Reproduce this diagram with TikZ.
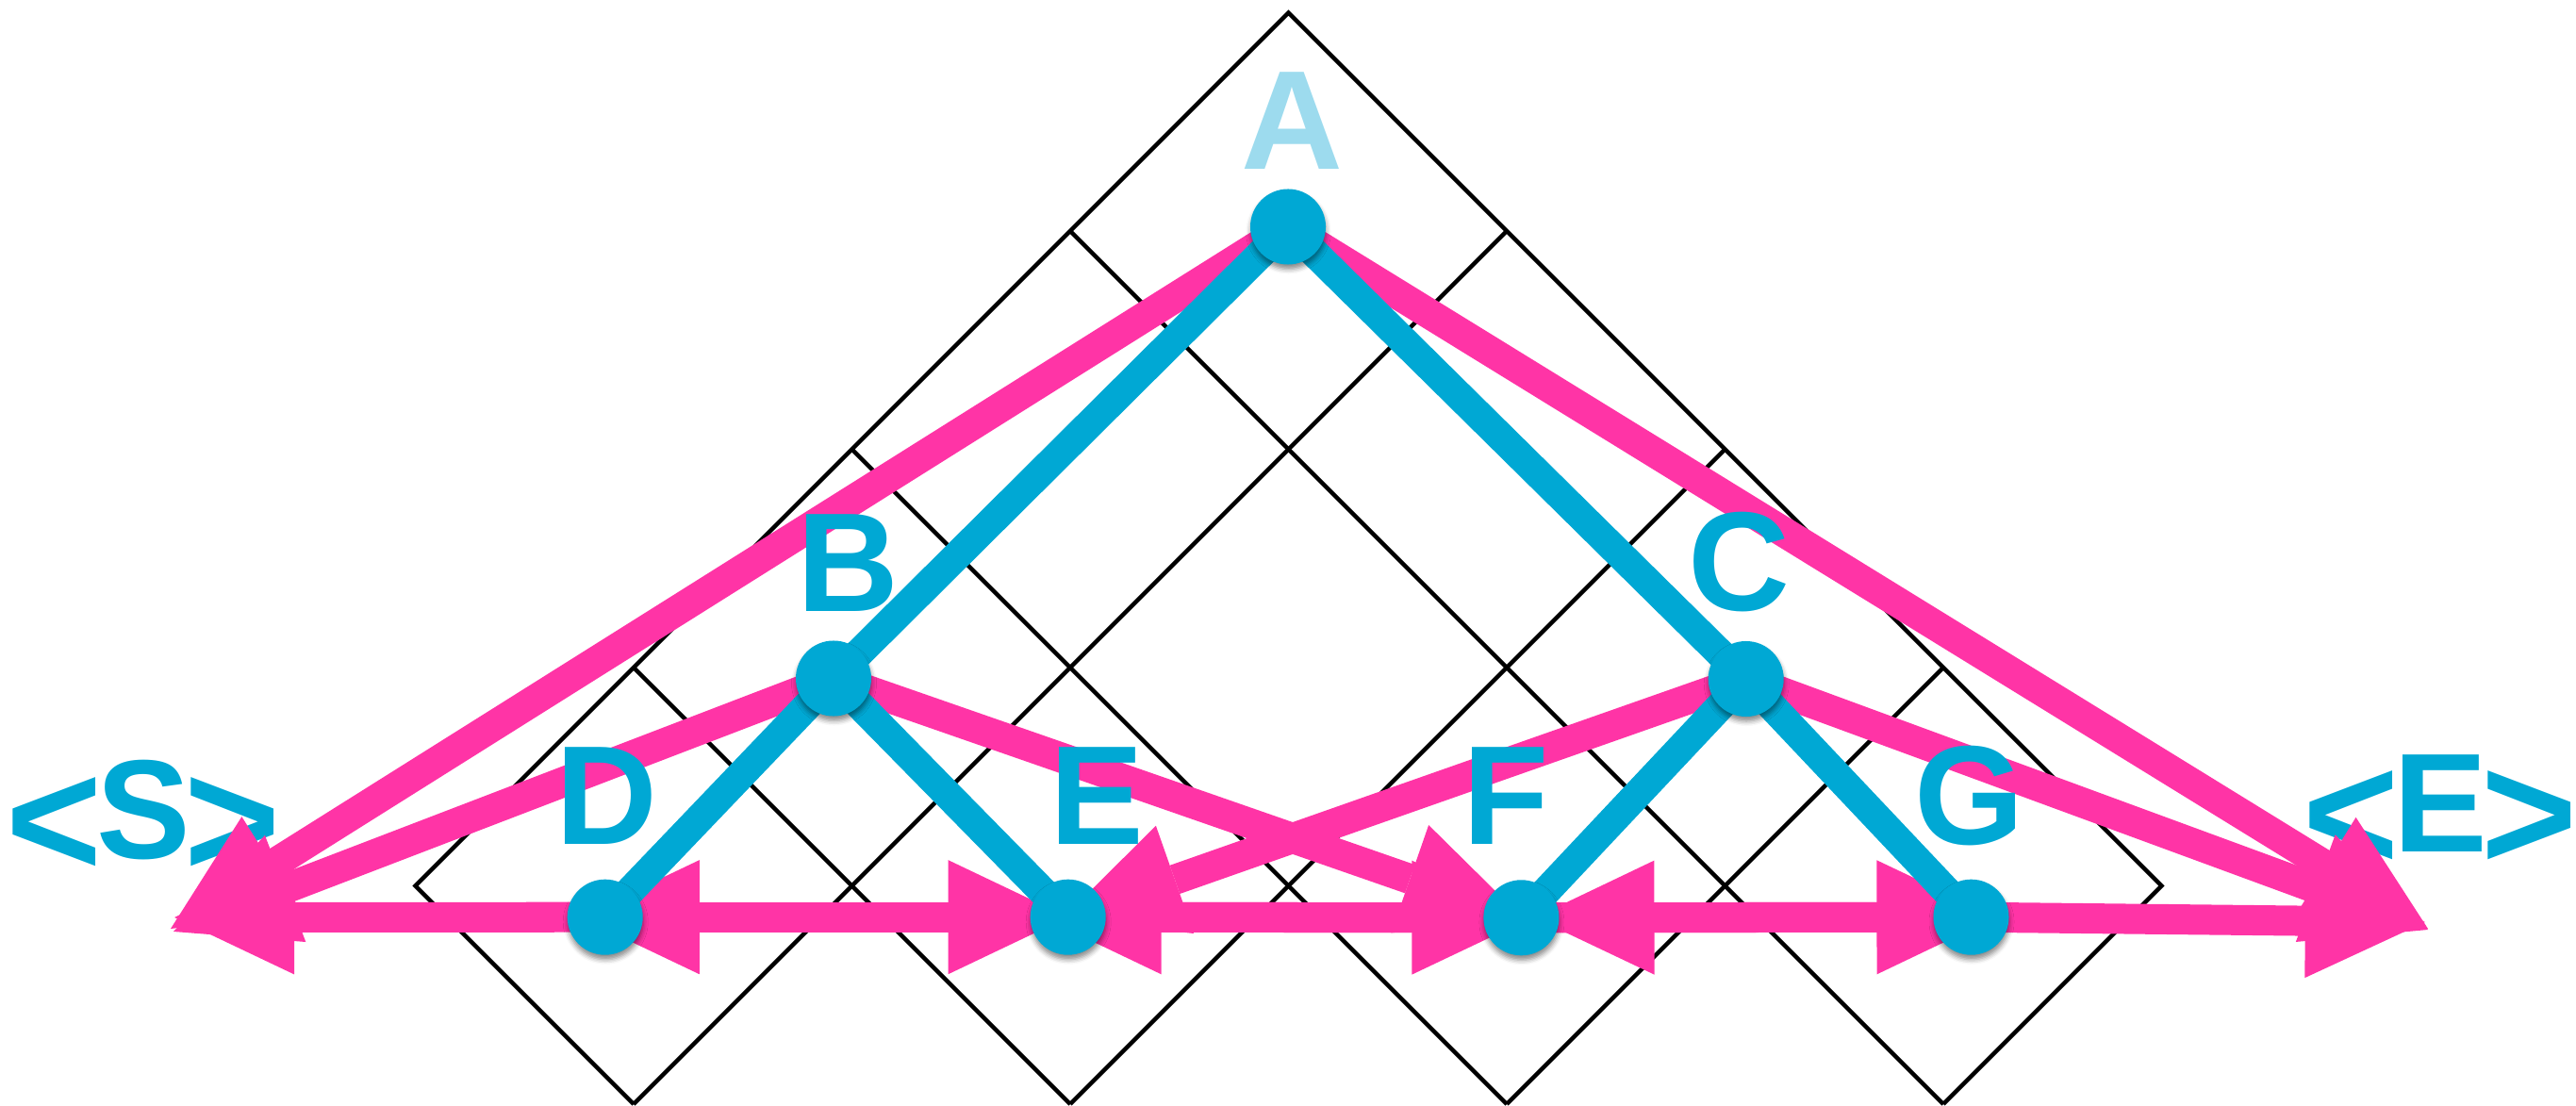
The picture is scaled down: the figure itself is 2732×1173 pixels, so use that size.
\documentclass[tikz,border=0pt]{standalone}
\usepackage{fontspec}
\setmainfont{Liberation Sans}
\usetikzlibrary{arrows.meta,shadows.blur}
\definecolor{nblue}{HTML}{00A8D4}
\definecolor{lblue}{HTML}{9DDBEE}
\definecolor{hpink}{HTML}{FF34A6}
\newcommand\chevl{\raisebox{-0.13em}{\scalebox{1.17}{\textless}}}
\newcommand\chevr{\raisebox{-0.13em}{\scalebox{1.17}{\textgreater}}}
\pgfdeclarelayer{gridlayer}
\pgfdeclarelayer{pinklayer}
\pgfdeclarelayer{bluelayer}
\pgfsetlayers{gridlayer,pinklayer,bluelayer,main}
\begin{document}
\begin{tikzpicture}[x=0.01cm,y=-0.01cm,
  dot/.style={circle,fill=nblue,minimum size=0.8cm,inner sep=0pt,
    blur shadow={shadow xshift=0.005cm,shadow yshift=-0.05cm,shadow blur radius=0.05cm,shadow opacity=45}},
  lab/.style={text=nblue,font=\fontsize{42.5}{51}\selectfont\bfseries,anchor=base,inner sep=0pt},
  gridline/.style={line width=0.045cm,black,line join=miter},
  pinkline/.style={hpink,line width=0.32cm},
  parrow/.style={pinkline,-{Triangle[length=1.27cm,width=1.21cm,line width=0pt]}},
  blueline/.style={nblue,line width=0.31cm}]
\useasboundingbox (0,0) rectangle (2732,1173);

% circles
\node[dot] (A) at (1366,240.5) {};
\node[dot] (B) at (884,719.5) {};
\node[dot] (C) at (1851.7,720) {};
\node[dot] (D) at (641.7,972.7) {};
\node[dot] (E) at (1132.7,972.7) {};
\node[dot] (F) at (1613.4,973.3) {};
\node[dot] (G) at (2090.5,972.7) {};

% labels
\node[lab,text=lblue] (lA) at (1370,180) {A};
\node[lab] (lB) at (899,648) {B};
\node[lab] (lC) at (1844,647) {C};
\node[lab] (lD) at (643,895) {D};
\node[lab] (lE) at (1163.5,895) {E};
\node[lab] (lF) at (1597.5,895) {F};
\node[lab] (lG) at (2089,895) {G};

% arrow tip points
\coordinate (sA) at (181,985);
\coordinate (sB) at (184,988);
\coordinate (sD) at (185,973);
\coordinate (eA) at (2575,985);
\coordinate (eC) at (2575,986);
\coordinate (eG) at (2572,978);

\begin{pgfonlayer}{gridlayer}
  \draw[gridline] (672,1171) -- (440.5,939.5) -- (1366.5,13.5) -- (2292.5,939.5) -- (2061,1171);
  \draw[gridline] (1135,245) -- (2061,1171);
  \draw[gridline] (903.5,476.5) -- (1598,1171);
  \draw[gridline] (672,708) -- (1135,1171);
  \draw[gridline] (1598,245) -- (672,1171);
  \draw[gridline] (1829.5,476.5) -- (1135,1171);
  \draw[gridline] (2061,708) -- (1598,1171);
  \node[lab] (lS) at (152,910) {\chevl\kern-0.04em S\kern-0.04em\chevr};
  \node[lab] (lEnd) at (2588,903) {\chevl\kern-0.04em E\kern-0.04em\chevr};
\end{pgfonlayer}

\begin{pgfonlayer}{pinklayer}
  \draw[parrow] (A.center) -- (sA);
  \draw[parrow] (A.center) -- (eA);
  \draw[parrow] (B.center) -- (sB);
  \draw[parrow] (C.center) -- (eC);
  \draw[parrow,shorten >=-0.02cm] (B.center) -- (F.center);
  \draw[parrow,shorten >=-0.07cm] (C.center) -- (E.center);
  \draw[parrow] (D.center) -- (sD);
  \draw[parrow] (G.center) -- (eG);
  \draw[parrow] (D.center) -- (E.center);
  \draw[parrow,shorten >=-0.27cm] (E.center) -- (D.center);
  \draw[parrow,shorten >=-0.11cm] (E.center) -- (F.center);
  \draw[parrow,shorten >=-0.28cm] (F.center) -- (E.center);
  \draw[parrow,shorten >=-0.27cm] (F.center) -- (G.center);
  \draw[parrow,shorten >=0.14cm] (G.center) -- (F.center);
\end{pgfonlayer}

\begin{pgfonlayer}{bluelayer}
  \draw[blueline] (A.center) -- (B.center);
  \draw[blueline] (A.center) -- (C.center);
  \draw[blueline] (B.center) -- (D.center);
  \draw[blueline] (B.center) -- (E.center);
  \draw[blueline] (C.center) -- (F.center);
  \draw[blueline] (C.center) -- (G.center);
\end{pgfonlayer}
\end{tikzpicture}
\end{document}
